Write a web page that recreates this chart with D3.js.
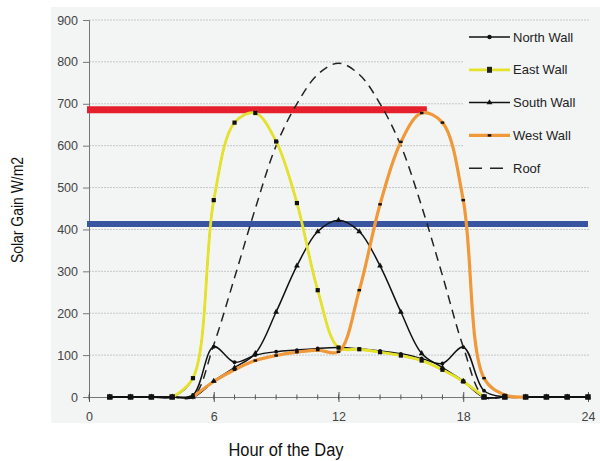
<!DOCTYPE html>
<html><head><meta charset="utf-8">
<script src="https://cdn.jsdelivr.net/npm/d3@7"></script>
<style>html,body{margin:0;padding:0;background:#fff;}svg{display:block;}</style>
</head><body>
<svg id="c" width="600" height="461"></svg>
<script>
// ---- data ----
const hours = d3.range(1, 25);
const seriesNames = ["North Wall", "East Wall", "South Wall", "West Wall", "Roof"];
const northWall = [0,0,0,0,5,120,83,100,108,112,116,118,115,110,103,92,80,119,15,0,0,0,0,0];
const eastWall  = [0,0,0,0,45,470,655,678,610,463,255,118,114,107,99,87,65,37,0,0,0,0,0,0];
const southWall = [0,0,0,0,0,38,70,104,203,313,395,422,395,313,203,104,70,38,0,0,0,0,0,0];
const westWall  = [0,0,0,0,0,37,65,87,99,107,112,108,255,460,609,678,655,470,45,5,0,0,0,0];
const roof      = [0,0,0,0,0,125,285,450,600,700,770,797,770,700,600,455,290,120,0,0,0,0,0,0];
const yTicks = [0,100,200,300,400,500,600,700,800,900];
const xTicks = [0,6,12,18,24];
const redLine = {value: 686, from: 0, to: 16.25};
const blueLine = {value: 413, from: 0, to: 24};

// ---- layout ----
const svg = d3.select("#c");
const x = d3.scaleLinear().domain([0,24]).range([89,588]);
const y = d3.scaleLinear().domain([0,900]).range([397,20]);
const bg = "#f3f5f5";

svg.append("rect").attr("x",51).attr("y",7).attr("width",549).attr("height",416).attr("fill",bg);

// gridlines
svg.append("g").selectAll("line").data(yTicks.filter(d=>d>0)).join("line")
  .attr("x1",x(0)).attr("x2",590).attr("y1",d=>y(d)).attr("y2",d=>y(d))
  .attr("stroke","#c4c8c8").attr("stroke-width",1).attr("stroke-dasharray","2,1");

// legend background (covers gridlines)
svg.append("rect").attr("x",463).attr("y",24).attr("width",134).attr("height",160).attr("fill",bg);

// y axis
const ya = svg.append("g").attr("transform",`translate(${x(0)},0)`)
  .call(d3.axisLeft(y).tickValues(yTicks).tickSize(6).tickPadding(5));
ya.select(".domain").attr("stroke","#777");
ya.selectAll(".tick line").attr("stroke","#777");
ya.selectAll("text").attr("fill","#444").style("font-family","Liberation Sans, Arial, sans-serif").style("font-size","12.5px");

// x axis
const xa = svg.append("g").attr("transform",`translate(0,${y(0)})`)
  .call(d3.axisBottom(x).tickValues(xTicks).tickSize(5).tickPadding(10).tickSizeOuter(0));
xa.select(".domain").attr("stroke","#777");
xa.selectAll(".tick line").attr("stroke","#555").attr("y1",-5).attr("y2",5);
xa.selectAll("text").attr("fill","#444").style("font-family","Liberation Sans, Arial, sans-serif").style("font-size","12.5px");
svg.append("g").selectAll("line").data(d3.range(0,25)).join("line")
  .attr("x1",d=>x(d)).attr("x2",d=>x(d)).attr("y1",y(0)-2.5).attr("y2",y(0)+2.5)
  .attr("stroke","#555").attr("stroke-width",1);

// reference bands
svg.append("line").attr("x1",x(blueLine.from)-2).attr("x2",x(blueLine.to)).attr("y1",y(blueLine.value)).attr("y2",y(blueLine.value))
  .attr("stroke","#3a55a0").attr("stroke-width",6);
svg.append("line").attr("x1",x(redLine.from)-2).attr("x2",x(redLine.to)).attr("y1",y(redLine.value)).attr("y2",y(redLine.value))
  .attr("stroke","#e5202c").attr("stroke-width",7);

// lines
const curve = d3.curveCatmullRom.alpha(0.5);
const toPts = data => data.map((v,i)=>[hours[i], v]);
const line = d3.line().x(d=>x(d[0])).y(d=>y(d[1])).curve(curve);
// highlight only the active (non-zero) stretch of a series, plus one zero point at each end
function activePts(data){
  const first = data.findIndex(v=>v!==0);
  let last = data.length-1; while (last>0 && data[last]===0) last--;
  return toPts(data).slice(Math.max(0,first-1), Math.min(data.length,last+2));
}
const g = svg.append("g");
g.append("path").attr("d",line(toPts(roof))).attr("fill","none").attr("stroke","#222").attr("stroke-width",1.5).attr("stroke-dasharray","9,6");
g.append("path").attr("d",line(toPts(southWall))).attr("fill","none").attr("stroke","#111").attr("stroke-width",1.5);
g.append("path").attr("d",line(toPts(northWall))).attr("fill","none").attr("stroke","#111").attr("stroke-width",1.5);
g.append("path").attr("d",line(toPts(eastWall))).attr("fill","none").attr("stroke","#111").attr("stroke-width",1.5);
g.append("path").attr("d",line(toPts(westWall))).attr("fill","none").attr("stroke","#111").attr("stroke-width",1.5);
g.append("path").attr("d",line(activePts(eastWall))).attr("fill","none").attr("stroke","#e4e22c").attr("stroke-width",2.8);
g.append("path").attr("d",line(activePts(westWall))).attr("fill","none").attr("stroke","#f0993a").attr("stroke-width",3.2);
// black baseline segments where all walls are zero stay visible
g.append("path").attr("d",line(toPts(northWall).filter((d,i)=>i<4||i>18))).attr("fill","none");

// markers
const tri = d3.symbol().type(d3.symbolTriangle).size(15);
function markers(data, kind){
  const m = svg.append("g");
  data.forEach((v,i)=>{
    const cx = x(hours[i]), cy = y(v);
    const zero = v === 0;
    if (kind==="circle") m.append("circle").attr("cx",cx).attr("cy",cy).attr("r",1.9).attr("fill","#111");
    else if (kind==="square") { const s = zero ? 5.5 : 4.2; m.append("rect").attr("x",cx-s/2).attr("y",cy-s/2).attr("width",s).attr("height",s).attr("fill","#111"); }
    else if (kind==="tri") m.append("path").attr("d",tri()).attr("transform",`translate(${cx},${cy})`).attr("fill","#111");
    else if (kind==="dash") m.append("rect").attr("x",cx-1.8).attr("y",cy-1.2).attr("width",3.6).attr("height",2.4).attr("fill","#111");
  });
}
markers(westWall,"dash");
markers(southWall,"tri");
markers(northWall,"circle");
markers(eastWall,"square");

// legend
const lg = svg.append("g");
const legendStyles = [
  {stroke:"#111", w:1.5, dash:null, mk:"circle"},
  {stroke:"#e4e22c", w:2.8, dash:null, mk:"square"},
  {stroke:"#111", w:1.5, dash:null, mk:"tri"},
  {stroke:"#f0993a", w:3.2, dash:null, mk:"dash"},
  {stroke:"#222", w:1.5, dash:"13,8", mk:null}
];
seriesNames.forEach((name,i)=>{
  const ly = 37 + i*32.8;
  const s = legendStyles[i];
  lg.append("line").attr("x1",469).attr("x2",510).attr("y1",ly).attr("y2",ly)
    .attr("stroke",s.stroke).attr("stroke-width",s.w).attr("stroke-dasharray",s.dash);
  const cx = 489.5;
  if (s.mk==="circle") lg.append("circle").attr("cx",cx).attr("cy",ly).attr("r",2.2).attr("fill","#111");
  if (s.mk==="square") lg.append("rect").attr("x",cx-2.5).attr("y",ly-3).attr("width",5).attr("height",6).attr("fill","#222");
  if (s.mk==="tri") lg.append("path").attr("d",tri()).attr("transform",`translate(${cx},${ly})`).attr("fill","#111");
  if (s.mk==="dash") lg.append("rect").attr("x",cx-1.8).attr("y",ly-1.2).attr("width",3.6).attr("height",2.4).attr("fill","#111");
  lg.append("text").attr("x",513).attr("y",ly).attr("dy","0.35em").text(name)
    .style("font-family","Liberation Sans, Arial, sans-serif").style("font-size","13px").attr("fill","#222");
});

// axis titles
svg.append("text").attr("x",286).attr("y",456).attr("text-anchor","middle").text("Hour of the Day")
  .style("font-family","'Liberation Sans Narrow', 'Arial Narrow', 'Liberation Sans', sans-serif").style("font-size","18px")
  .attr("textLength",115).attr("lengthAdjust","spacingAndGlyphs").attr("fill","#111");
svg.append("text").attr("transform","translate(23,210) rotate(-90)").attr("text-anchor","middle").text("Solar Gain W/m2")
  .style("font-family","'Liberation Sans Narrow', 'Arial Narrow', 'Liberation Sans', sans-serif").style("font-size","17px")
  .attr("textLength",106).attr("lengthAdjust","spacingAndGlyphs").attr("fill","#111");
</script>
</body></html>
